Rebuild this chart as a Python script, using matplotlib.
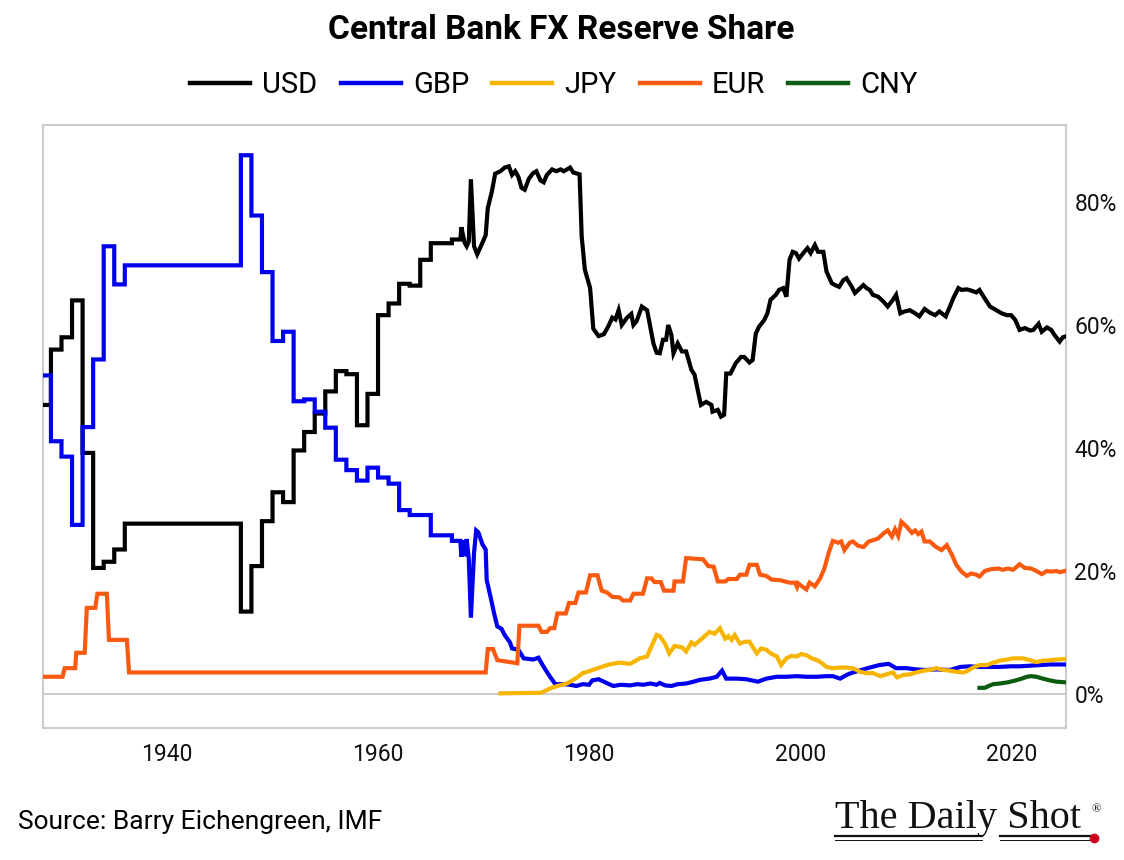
import numpy as np
import matplotlib
matplotlib.use("Agg")
import matplotlib.pyplot as plt
from matplotlib import font_manager
from matplotlib.lines import Line2D

# ── data (share of reserves, %) ──────────────────────────────────────────────
# annual steps 1928-1967, then quarterly-ish points
annual_years = list(range(1928, 1968))
usd_annual = [47.0, 56.0, 58.0, 64.0, 39.2, 20.5, 21.5, 23.5,
              27.7, 27.7, 27.7, 27.7, 27.7, 27.7, 27.7, 27.7, 27.7, 27.7, 27.7,
              13.4, 20.8, 28.1, 32.8, 31.2, 39.6, 42.6, 45.6, 49.2, 52.5, 52.0,
              43.7, 48.8, 61.6, 63.5, 66.7, 66.4, 70.6, 73.3, 73.3, 73.9]
gbp_annual = [51.8, 41.1, 38.6, 27.5, 43.4, 54.4, 72.8, 66.6,
              69.7, 69.7, 69.7, 69.7, 69.7, 69.7, 69.7, 69.7, 69.7, 69.7, 69.7,
              87.6, 77.8, 68.6, 57.4, 58.9, 47.6, 47.9, 45.9, 43.3, 38.1, 36.4,
              34.7, 36.8, 35.2, 34.2, 29.9, 29.1, 29.1, 25.8, 25.8, 24.9]

usd_recent = [
    (1967.8, 73.9), (1967.9, 75.9), (1968.2, 73.4), (1968.4, 72.8), (1968.6, 73.6),
    (1968.8, 83.7), (1969.1, 72.8), (1969.4, 71.5), (1969.9, 73.4), (1970.2, 74.6),
    (1970.4, 79.0), (1970.8, 81.8), (1971.1, 84.6), (1971.6, 85.0), (1972.0, 85.6),
    (1972.4, 85.8), (1972.7, 84.4), (1973.0, 85.0), (1973.3, 84.1), (1973.6, 82.3),
    (1973.9, 82.0), (1974.3, 83.8), (1974.7, 84.7), (1975.0, 85.0), (1975.4, 83.5),
    (1975.7, 83.2), (1976.0, 84.4), (1976.5, 85.3), (1976.9, 85.0), (1977.3, 85.3),
    (1977.6, 85.0), (1977.9, 85.3), (1978.2, 85.6), (1978.5, 84.8), (1979.1, 84.5),
    (1979.3, 74.4), (1979.6, 69.0), (1980.1, 66.0), (1980.4, 59.4), (1980.9, 58.2),
    (1981.4, 58.5), (1981.8, 59.7), (1982.2, 61.2), (1982.5, 60.9), (1982.8, 62.4),
    (1983.1, 60.0), (1983.6, 61.2), (1984.0, 61.8), (1984.2, 60.0), (1984.5, 60.6),
    (1985.0, 63.0), (1985.5, 62.4), (1985.8, 59.7), (1986.1, 57.0), (1986.4, 55.5),
    (1986.7, 55.4), (1987.0, 57.6), (1987.3, 57.6), (1987.5, 60.0), (1987.8, 58.4),
    (1988.0, 55.4), (1988.4, 57.0), (1988.8, 55.7), (1989.2, 55.7), (1989.7, 52.7),
    (1990.0, 51.9), (1990.3, 49.4), (1990.6, 47.0), (1991.1, 47.5), (1991.6, 47.0),
    (1991.7, 45.9), (1992.2, 46.2), (1992.5, 45.1), (1992.8, 45.4), (1993.0, 52.1),
    (1993.4, 52.1), (1993.9, 53.8), (1994.4, 54.8), (1994.7, 54.8), (1995.2, 53.9),
    (1995.5, 54.3), (1995.8, 58.6), (1996.1, 59.7), (1996.6, 60.8), (1996.9, 61.9),
    (1997.2, 64.1), (1997.7, 64.9), (1998.0, 65.7), (1998.4, 66.0), (1998.7, 64.6),
    (1999.0, 70.6), (1999.3, 71.9), (1999.6, 71.7), (1999.9, 70.8), (2000.4, 71.9),
    (2000.7, 72.5), (2001.0, 71.7), (2001.4, 73.0), (2001.7, 71.9), (2002.2, 71.9),
    (2002.5, 68.7), (2003.0, 66.8), (2003.3, 66.5), (2003.7, 66.2), (2004.1, 67.3),
    (2004.4, 67.6), (2004.9, 66.2), (2005.2, 65.2), (2005.7, 66.0), (2006.0, 66.5),
    (2006.3, 66.0), (2006.6, 65.7), (2006.9, 64.9), (2007.4, 64.6), (2007.9, 63.8),
    (2008.3, 63.0), (2008.8, 64.1), (2009.1, 64.9), (2009.5, 61.9), (2009.9, 62.2),
    (2010.4, 62.4), (2010.9, 61.9), (2011.3, 61.4), (2011.8, 62.6), (2012.3, 62.0),
    (2012.8, 61.6), (2013.2, 62.2), (2013.8, 61.4), (2014.2, 63.0), (2014.5, 64.3),
    (2015.0, 66.0), (2015.3, 65.7), (2015.8, 65.8), (2016.2, 65.6), (2016.7, 65.3),
    (2017.0, 65.7), (2017.5, 64.3), (2018.0, 63.0), (2018.6, 62.4), (2019.1, 61.9),
    (2019.6, 61.6), (2020.0, 61.6), (2020.4, 60.8), (2020.8, 59.2), (2021.3, 59.5),
    (2021.8, 59.1), (2022.1, 59.2), (2022.6, 60.2), (2022.9, 58.9), (2023.4, 59.6),
    (2023.8, 59.2), (2024.1, 58.4), (2024.6, 57.3), (2024.9, 58.0), (2025.1, 58.1),
]

gbp_recent = [
    (1967.8, 24.9), (1967.9, 22.3), (1968.1, 25.0), (1968.3, 22.4), (1968.4, 25.2),
    (1968.6, 22.0), (1968.8, 12.4), (1969.1, 23.0), (1969.3, 26.6), (1969.5, 26.3),
    (1969.9, 24.3), (1970.2, 23.5), (1970.3, 18.5), (1970.7, 15.5), (1971.0, 13.1),
    (1971.3, 11.0), (1971.7, 10.6), (1972.0, 9.6), (1972.2, 9.1), (1972.5, 8.4),
    (1972.7, 7.4), (1973.3, 7.2), (1973.8, 5.8), (1974.7, 5.6), (1975.2, 5.9),
    (1975.7, 4.4), (1976.3, 2.8), (1976.8, 1.6), (1977.5, 1.6), (1978.2, 1.5),
    (1978.8, 1.3), (1979.4, 1.6), (1980.0, 1.5), (1980.3, 2.2), (1980.9, 2.4),
    (1981.4, 2.0), (1981.9, 1.6), (1982.3, 1.3), (1983.0, 1.5), (1983.9, 1.4),
    (1984.6, 1.6), (1985.1, 1.5), (1985.8, 1.7), (1986.4, 1.5), (1986.7, 1.8),
    (1987.2, 1.4), (1987.8, 1.3), (1988.4, 1.6), (1989.2, 1.7), (1989.9, 2.0),
    (1990.5, 2.3), (1991.4, 2.5), (1992.1, 2.8), (1992.6, 3.8), (1993.0, 2.5),
    (1994.0, 2.5), (1994.9, 2.4), (1996.0, 2.0), (1996.8, 2.5), (1997.8, 2.8),
    (1998.7, 2.8), (1999.7, 2.9), (2000.6, 2.8), (2001.6, 2.8), (2002.5, 2.9),
    (2003.1, 2.9), (2003.8, 2.5), (2004.4, 3.1), (2005.0, 3.5), (2005.6, 3.8),
    (2006.6, 4.3), (2007.5, 4.7), (2008.4, 4.9), (2009.1, 4.2), (2010.1, 4.2),
    (2011.0, 4.0), (2011.9, 3.9), (2012.9, 4.0), (2014.2, 3.9), (2015.2, 4.4),
    (2016.1, 4.5), (2017.0, 4.4), (2018.0, 4.4), (2018.9, 4.4), (2019.9, 4.5),
    (2020.8, 4.5), (2021.8, 4.6), (2022.7, 4.7), (2023.7, 4.8), (2025.1, 4.8),
]

jpy = [
    (1971.6, 0.1), (1975.4, 0.2), (1975.7, 0.4), (1976.3, 0.9), (1977.0, 1.3),
    (1977.9, 1.7), (1978.8, 2.6), (1979.4, 3.4), (1980.0, 3.7), (1981.0, 4.3),
    (1981.9, 4.8), (1982.9, 5.1), (1983.9, 4.9), (1984.8, 5.8), (1985.5, 6.1),
    (1985.9, 7.7), (1986.4, 9.6), (1986.7, 9.4), (1987.2, 8.2), (1987.6, 6.6),
    (1988.1, 7.8), (1988.8, 7.6), (1989.2, 6.9), (1989.7, 8.4), (1990.0, 8.0),
    (1990.7, 9.0), (1991.4, 10.1), (1991.9, 9.8), (1992.4, 10.7), (1992.9, 9.0),
    (1993.2, 9.4), (1993.5, 8.8), (1993.8, 9.6), (1994.3, 8.2), (1994.8, 8.5),
    (1995.2, 8.5), (1995.9, 6.6), (1996.3, 7.4), (1996.8, 7.2), (1997.3, 6.5),
    (1997.8, 6.1), (1998.2, 4.7), (1998.7, 5.8), (1999.2, 6.2), (1999.7, 6.1),
    (2000.1, 6.5), (2000.6, 6.3), (2001.1, 5.8), (2001.6, 5.5), (2002.0, 5.1),
    (2002.5, 4.4), (2003.1, 4.2), (2003.8, 4.3), (2004.4, 4.3), (2005.0, 4.2),
    (2005.7, 3.6), (2006.3, 3.4), (2006.9, 3.4), (2007.6, 2.9), (2008.2, 3.2),
    (2008.8, 3.5), (2009.2, 2.7), (2009.8, 3.1), (2010.4, 3.2), (2011.0, 3.5),
    (2011.7, 3.8), (2012.3, 3.9), (2012.9, 4.2), (2013.6, 3.9), (2014.2, 3.8),
    (2014.8, 3.6), (2015.5, 3.5), (2015.9, 3.8), (2016.4, 4.3), (2017.0, 4.7),
    (2017.7, 4.7), (2018.3, 5.1), (2018.9, 5.4), (2019.6, 5.6), (2020.2, 5.8),
    (2020.7, 5.8), (2021.1, 5.8), (2021.8, 5.5), (2022.4, 5.2), (2023.0, 5.4),
    (2023.7, 5.5), (2024.3, 5.6), (2025.1, 5.7),
]

eur = [
    (1928.2, 2.8), (1930.1, 2.8), (1930.3, 4.2), (1931.3, 4.2), (1931.4, 6.7),
    (1932.2, 6.7), (1932.4, 14.0), (1933.2, 14.0), (1933.4, 16.3), (1934.3, 16.3),
    (1934.5, 8.8), (1936.2, 8.8), (1936.4, 3.5), (1970.2, 3.5), (1970.4, 7.3),
    (1970.9, 7.3), (1971.3, 5.5), (1973.2, 5.0), (1973.4, 11.1), (1975.2, 11.1),
    (1975.5, 10.1), (1976.0, 10.1), (1976.3, 10.7), (1976.7, 10.7), (1977.0, 13.1),
    (1977.8, 13.1), (1978.1, 14.8), (1978.7, 14.8), (1979.0, 16.5), (1979.7, 16.5),
    (1980.1, 19.3), (1980.8, 19.3), (1981.2, 16.8), (1981.7, 16.5), (1982.2, 15.8),
    (1982.9, 15.7), (1983.2, 15.2), (1983.9, 15.2), (1984.2, 16.3), (1985.1, 16.3),
    (1985.5, 18.8), (1985.9, 18.8), (1986.2, 18.2), (1986.8, 18.2), (1987.1, 16.8),
    (1988.0, 16.8), (1988.1, 18.3), (1988.9, 18.3), (1989.2, 22.1), (1990.8, 21.9),
    (1991.3, 20.8), (1991.8, 20.7), (1992.2, 18.3), (1992.9, 18.3), (1993.2, 18.7),
    (1994.0, 18.7), (1994.3, 19.4), (1994.9, 19.4), (1995.2, 21.0), (1995.9, 21.0),
    (1996.2, 19.4), (1996.8, 19.2), (1997.3, 18.6), (1998.1, 18.5), (1999.0, 18.1),
    (1999.5, 18.1), (1999.7, 17.4), (1999.8, 18.0), (2000.1, 17.6), (2000.6, 17.0),
    (2000.9, 18.1), (2001.4, 17.5), (2001.9, 18.8), (2002.3, 20.4), (2002.7, 22.9),
    (2003.1, 24.9), (2003.6, 24.6), (2003.9, 24.8), (2004.2, 23.4), (2004.7, 24.6),
    (2005.0, 24.8), (2005.5, 24.1), (2006.0, 23.9), (2006.5, 24.8), (2006.9, 25.0),
    (2007.4, 25.3), (2007.9, 26.1), (2008.3, 26.6), (2008.7, 25.6), (2009.0, 26.8),
    (2009.3, 25.7), (2009.6, 28.0), (2010.1, 27.2), (2010.6, 26.2), (2010.9, 26.6),
    (2011.2, 26.0), (2011.5, 26.4), (2011.8, 24.8), (2012.3, 24.8), (2012.8, 24.0),
    (2013.4, 23.4), (2013.9, 24.2), (2014.4, 22.6), (2014.8, 21.0), (2015.3, 19.9),
    (2015.8, 19.2), (2016.2, 19.6), (2016.7, 19.4), (2017.0, 19.1), (2017.5, 20.0),
    (2018.1, 20.3), (2018.8, 20.4), (2019.2, 20.2), (2019.7, 20.4), (2020.2, 20.2),
    (2020.8, 21.1), (2021.3, 20.5), (2021.9, 20.4), (2022.4, 20.0), (2022.9, 19.5),
    (2023.4, 20.0), (2023.8, 19.9), (2024.3, 20.0), (2024.6, 19.8), (2025.1, 20.0),
]

cny = [
    (2017.0, 1.0), (2017.5, 1.0), (2018.0, 1.4), (2018.3, 1.6), (2018.9, 1.7),
    (2019.7, 1.9), (2020.4, 2.2), (2021.0, 2.5), (2021.5, 2.8), (2021.9, 2.9),
    (2022.4, 2.8), (2023.0, 2.5), (2023.7, 2.2), (2024.3, 2.0), (2025.1, 1.9),
]

currencies = ["USD", "GBP", "JPY", "EUR", "CNY"]
colors = ["#000000", "#0000ee", "#f7b500", "#fa5a0f", "#0b5c10"]
x_ticks = [1940, 1960, 1980, 2000, 2020]
y_ticks = [0, 20, 40, 60, 80]


def pick_font(names):
    for name in names:
        try:
            font_manager.findfont(name, fallback_to_default=False)
            return name
        except Exception:
            pass
    return "DejaVu Sans"


def step_then_points(years, levels, recent):
    # annual levels drawn as steps, joined to the finer recent points
    xs, ys = [], []
    ends = years[1:] + [recent[0][0]]
    for start, end, v in zip(years, ends, levels):
        xs += [start, end]
        ys += [v, v]
    xs += [p[0] for p in recent]
    ys += [p[1] for p in recent]
    return xs, ys


def split(points):
    return [p[0] for p in points], [p[1] for p in points]


sans = pick_font(["Liberation Sans Narrow", "Roboto", "Open Sans"])
serif = pick_font(["Liberation Serif", "DejaVu Serif"])
plt.rcParams["font.family"] = sans

W, H = 1124, 860
fig = plt.figure(figsize=(W / 100, H / 100), dpi=100)
ax = fig.add_axes([42.5 / W, 132 / H, 1023.5 / W, 603 / H])

series = [
    step_then_points(annual_years, usd_annual, usd_recent),
    step_then_points(annual_years, gbp_annual, gbp_recent),
    split(jpy),
    split(eur),
    split(cny),
]

ax.axhline(0, color="#c8c8c8", lw=1.3, zorder=1)
for (xs, ys), c in zip(series, colors):
    ax.plot(xs, ys, color=c, lw=3.0, solid_joinstyle="miter", zorder=3)

ax.set_xlim(1928.2, 2025.2)
ax.set_ylim(-5.53, 92.52)
ax.set_xticks(x_ticks)
ax.set_yticks(y_ticks)
ax.set_yticklabels([f"{v}%" for v in y_ticks])
ax.yaxis.tick_right()
ax.tick_params(length=0, labelsize=16.5, colors="#111111")
ax.tick_params(axis="x", pad=11)
ax.tick_params(axis="y", pad=6)
for s in ax.spines.values():
    s.set_color("#cccccc")
    s.set_linewidth(1.5)

fig.text(0.4996, 1 - 30 / H, "Central Bank FX Reserve Share", ha="center", va="center",
         fontsize=24, fontweight="bold")

handles = [Line2D([0], [0], color=c, lw=3.2) for c in colors]
fig.legend(handles, currencies, loc="center", bbox_to_anchor=(554 / W, 1 - 85 / H),
           ncol=5, frameon=False, fontsize=21, handlelength=2.05, handletextpad=0.42,
           columnspacing=0.8)

fig.text(18 / W, 1 - 829 / H, "Source: Barry Eichengreen, IMF", ha="left", va="baseline",
         fontsize=19)

# logo
fig.text(835 / W, 1 - 828 / H, "The Daily Shot", ha="left", va="baseline",
         fontsize=29, family=serif, color="#111111")
fig.text(1092 / W, 1 - 812 / H, "®", ha="left", va="baseline", fontsize=9,
         family=serif, color="#111111")
for x0, x1 in [(835, 982), (1000, 1093)]:
    fig.add_artist(Line2D([x0 / W, x1 / W], [1 - 836 / H, 1 - 836 / H],
                          color="#111111", lw=1.6))
    fig.add_artist(Line2D([x0 / W, x1 / W], [1 - 840 / H, 1 - 840 / H],
                          color="#111111", lw=0.7))
fig.add_artist(Line2D([1094 / W], [1 - 838 / H], marker="o", markersize=6,
                      color="#d0021b", lw=0))

fig.savefig("out.png", dpi=100)
